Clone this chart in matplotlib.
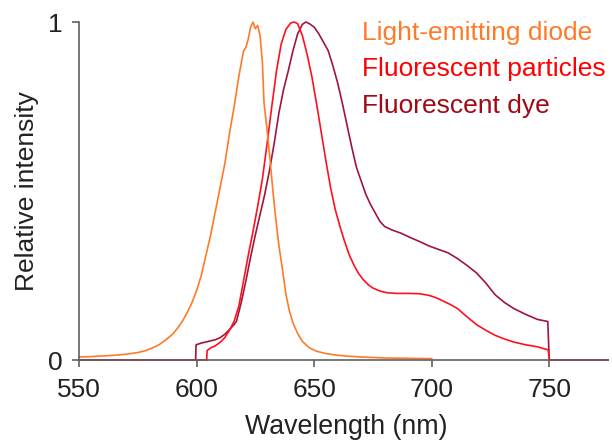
import numpy as np
import matplotlib.pyplot as plt

plt.rcParams['font.family'] = ['Liberation Sans', 'DejaVu Sans']

# Light-emitting diode spectrum
led_nm = [550, 555, 560, 565, 570, 575, 578, 581, 584, 587, 590, 592, 594, 596,
          598, 600, 602, 604, 606, 608, 610, 612, 614, 616, 618, 620, 621, 622,
          623, 624, 625, 626, 627, 628, 628.7, 630, 631.3, 632.4, 633.5, 635,
          636.5, 638, 639.5, 641, 643, 645, 648, 651, 655, 660, 665, 670, 680,
          690, 700]
led_int = [0.009, 0.010, 0.012, 0.014, 0.017, 0.022, 0.027, 0.035, 0.045, 0.06,
           0.078, 0.095, 0.115, 0.14, 0.169, 0.205, 0.25, 0.31, 0.37, 0.44, 0.51,
           0.58, 0.67, 0.75, 0.84, 0.915, 0.925, 0.95, 0.985, 1.0, 0.98, 0.99,
           0.96, 0.88, 0.76, 0.68, 0.59, 0.506, 0.43, 0.34, 0.27, 0.195, 0.145,
           0.11, 0.078, 0.055, 0.036, 0.026, 0.019, 0.014, 0.011, 0.009, 0.006,
           0.005, 0.004]

# Fluorescent particles
part_nm = [550, 604.3, 604.5, 606, 608, 610, 612, 614, 616, 618, 620, 622, 624,
           626, 628, 630, 632, 634, 636, 638, 640, 641.5, 643, 645, 647, 649,
           651, 653, 655, 657, 659, 661, 663, 665, 667, 669, 671, 673, 675, 678,
           681, 685, 690, 695, 699, 702, 705, 708, 711, 715, 719, 723, 727, 731,
           735, 740, 745, 749.5, 750.2, 775]
part_int = [0, 0, 0.028, 0.036, 0.042, 0.052, 0.066, 0.088, 0.115, 0.16, 0.235,
            0.31, 0.38, 0.455, 0.535, 0.64, 0.75, 0.855, 0.935, 0.978, 0.997,
            1.0, 0.995, 0.96, 0.905, 0.84, 0.76, 0.675, 0.59, 0.51, 0.445, 0.395,
            0.35, 0.31, 0.28, 0.255, 0.237, 0.223, 0.213, 0.204, 0.199, 0.197,
            0.197, 0.196, 0.191, 0.184, 0.174, 0.164, 0.152, 0.128, 0.105, 0.088,
            0.073, 0.062, 0.053, 0.045, 0.039, 0.03, 0, 0]

# Fluorescent dye
dye_nm = [550, 599.6, 599.8, 602, 605, 608, 610, 612, 614, 616, 617, 619, 621,
          623, 625, 627, 629, 631, 633, 635, 637, 639, 641, 643, 645, 646.5, 648,
          650, 652, 654, 656, 658, 660, 662, 664, 666, 668, 670, 672, 674, 676,
          678, 680, 683, 687, 691, 695, 699, 703, 707, 711, 715, 719, 723, 727,
          731, 735, 740, 745, 749.4, 750, 775]
dye_int = [0, 0, 0.045, 0.05, 0.055, 0.06, 0.066, 0.076, 0.09, 0.105, 0.115,
           0.17, 0.235, 0.305, 0.37, 0.43, 0.49, 0.56, 0.64, 0.73, 0.80, 0.855,
           0.915, 0.965, 0.993, 1.0, 0.995, 0.985, 0.965, 0.94, 0.915, 0.87, 0.82,
           0.76, 0.695, 0.63, 0.57, 0.53, 0.49, 0.46, 0.435, 0.41, 0.395, 0.385,
           0.375, 0.362, 0.35, 0.337, 0.327, 0.317, 0.3, 0.28, 0.258, 0.228,
           0.193, 0.17, 0.152, 0.135, 0.12, 0.114, 0, 0]

labels = ['Light-emitting diode', 'Fluorescent particles', 'Fluorescent dye']
colors = ['#FF7A28', '#FF1020', '#A0153A']
text_colors = ['#FF7A28', '#FF0000', '#A00A14']

fig = plt.figure(figsize=(6.12, 4.44), dpi=100)
ax = fig.add_axes([79 / 612, 1 - 360 / 444, 529 / 612, 338 / 444])

ax.plot(dye_nm, dye_int, color=colors[2], lw=1.2, clip_on=False)
ax.plot(part_nm, part_int, color=colors[1], lw=1.2, clip_on=False)
ax.plot(led_nm, led_int, color=colors[0], lw=1.2, clip_on=False)

ax.set_xlim(550, 775)
ax.set_ylim(0, 1)
ax.set_xticks([550, 600, 650, 700, 750])
ax.set_yticks([0, 1])
ax.set_yticklabels(['0', '1'])

for s in ['top', 'right']:
    ax.spines[s].set_visible(False)
for s in ['left', 'bottom']:
    ax.spines[s].set_color('#606060')
    ax.spines[s].set_linewidth(1.2)

ax.tick_params(axis='both', labelsize=19, colors='#606060', labelcolor='#222222',
               length=5, width=1.2)
ax.tick_params(axis='x', pad=8)
ax.tick_params(axis='y', pad=7)

ax.set_xlabel('Wavelength (nm)', fontsize=19.3, color='#222222')
ax.set_ylabel('Relative intensity', fontsize=19, color='#222222')
ax.xaxis.set_label_coords(0.505, -0.16)
ax.yaxis.set_label_coords(-0.076, 0.5)

ys = [0.967, 0.861, 0.751]
for lab, c, y in zip(labels, text_colors, ys):
    ax.text(670.4, y, lab, color=c, fontsize=19, va='center', ha='left')

fig.savefig('out.png', dpi=100)
